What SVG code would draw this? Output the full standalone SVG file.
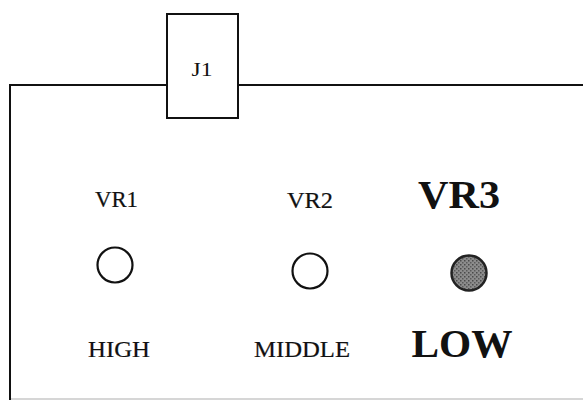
<svg xmlns="http://www.w3.org/2000/svg" width="583" height="400" viewBox="0 0 583 400">
  <style>
    .line { fill: none; stroke: #111; stroke-width: 2; }
    .box { fill: #fff; stroke: #111; stroke-width: 2; }
    .faint { fill: none; stroke: #c8c8c8; stroke-width: 1.5; }
    .lbl { font-family: "Liberation Serif", "Times New Roman", serif; font-size: 23px; fill: #111; stroke: #111; stroke-width: 0.2; text-anchor: middle; }
    .big { font-family: "Liberation Serif", "Times New Roman", serif; font-size: 40px; font-weight: bold; fill: #111; text-anchor: middle; }
    .knob { fill: #fff; stroke: #111; stroke-width: 2.2; }
    .knobOn { fill: url(#stipple); stroke: #222; stroke-width: 2.5; }
  </style>
  <defs>
    <pattern id="stipple" width="4" height="4" patternUnits="userSpaceOnUse">
      <rect width="4" height="4" fill="#8c8c8c"/>
      <rect x="0" y="0" width="1.5" height="1.5" fill="#4a4a4a"/>
      <rect x="2" y="2" width="1.5" height="1.5" fill="#5a5a5a"/>
    </pattern>
  </defs>
  <rect width="583" height="400" fill="#fff"/>

  <g id="connectors">
    <polyline class="line" points="583,85 10,85 10,400"/>
    <line class="faint" x1="11" y1="399" x2="583" y2="399"/>
  </g>

  <g id="J1">
    <rect class="box" x="167" y="14" width="71" height="104"/>
    <text class="lbl" x="202" y="76" textLength="21" lengthAdjust="spacingAndGlyphs" style="font-size:19px;stroke-width:0">J1</text>
  </g>

  <g id="VR1">
    <text class="lbl" x="116.5" y="207" textLength="43" lengthAdjust="spacingAndGlyphs">VR1</text>
    <circle class="knob" cx="115" cy="265" r="17.5"/>
    <text class="lbl" x="119" y="357" textLength="62" lengthAdjust="spacingAndGlyphs">HIGH</text>
  </g>

  <g id="VR2">
    <text class="lbl" x="310" y="208" textLength="46" lengthAdjust="spacingAndGlyphs">VR2</text>
    <circle class="knob" cx="310" cy="271" r="17.5"/>
    <text class="lbl" x="302" y="357" textLength="96" lengthAdjust="spacingAndGlyphs">MIDDLE</text>
  </g>

  <g id="VR3">
    <text class="big" x="459" y="208" textLength="82" lengthAdjust="spacingAndGlyphs">VR3</text>
    <circle class="knobOn" cx="469" cy="273" r="17.5"/>
    <text class="big" x="462" y="357" textLength="101" lengthAdjust="spacingAndGlyphs">LOW</text>
  </g>
</svg>
